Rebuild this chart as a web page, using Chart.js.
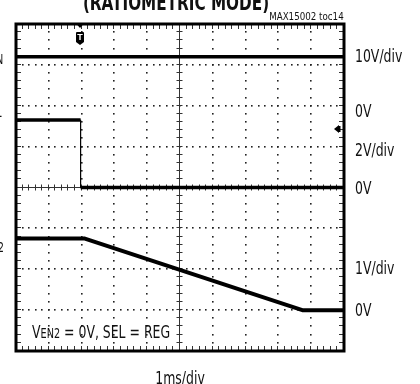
<!DOCTYPE html>
<html>
<head>
<meta charset="utf-8">
<script src="https://cdn.jsdelivr.net/npm/chart.js@4"></script>
<style>
  html, body { margin: 0; padding: 0; background: #fff; }
  #wrap {
    position: relative; width: 420px; height: 384px; overflow: hidden;
    font-family: "Liberation Sans Narrow", "Arial Narrow", "DejaVu Sans Condensed", sans-serif;
    color: #111;
  }
  canvas { position: absolute; left: 0; top: 0; }
  .lbl {
    position: absolute; white-space: nowrap; font-size: 18px; line-height: 1;
    transform: translateY(-50%) scaleX(0.77); transform-origin: 0 50%;
  }
  .lbl.r { transform-origin: 100% 50%; }
  .lbl.c { transform: translate(-50%, -50%) scaleX(0.77); transform-origin: 50% 50%; }
  .sub { font-size: 14px; }
  #title { font-weight: bold; font-size: 22px; }
  #tag { font-size: 11px; transform: translateY(-50%) scaleX(0.88); }
</style>
</head>
<body>
<div id="wrap">
  <canvas id="scope" width="420" height="384"></canvas>
  <div id="title" class="lbl c" style="left:176px; top:3px;">(RATIOMETRIC MODE)</div>
  <div id="tag" class="lbl r" style="right:76px; top:16px;">MAX15002 toc14</div>

  <div class="lbl r" style="right:417px; top:58px;">V<span class="sub">IN</span></div>
  <div class="lbl r" style="right:418px; top:111px;">V<span class="sub">EN1</span></div>
  <div class="lbl r" style="right:416px; top:246px;">V<span class="sub">OUT2</span></div>

  <div class="lbl" style="left:355px; top:56px;">10V/div</div>
  <div class="lbl" style="left:355px; top:111px;">0V</div>
  <div class="lbl" style="left:355px; top:150px;">2V/div</div>
  <div class="lbl" style="left:355px; top:188px;">0V</div>
  <div class="lbl" style="left:355px; top:268px;">1V/div</div>
  <div class="lbl" style="left:355px; top:310px;">0V</div>

  <div class="lbl" style="left:32px; top:332px;">V<span class="sub">EN2</span> = 0V, SEL = REG</div>
  <div class="lbl c" style="left:180px; top:378px;">1ms/div</div>
</div>
<script>
// screen: 10 time divisions at 1ms/div, 8 vertical divisions
const timeDivs = 10;
const voltDivs = 8;

// channels: VIN, VEN1, VOUT2
const voltsPerDiv = [10, 2, 1];
const zeroDiv = [2, 0, -3];

const vinTime = [0, 10];
const vinVolts = [12, 12];

const en1Time = [0, 1.97, 1.97, 10];
const en1Volts = [3.3, 3.3, 0, 0];

const out2Time = [0, 2.1, 8.73, 10];
const out2Volts = [1.75, 1.75, 0, 0];

const triggerTime = 1.95;
const refMarkerDiv = 1.42;

function toDivs(times, volts, ch) {
    return times.map((t, i) => ({ x: t, y: zeroDiv[ch] + volts[i] / voltsPerDiv[ch] }));
}

// thin line on the fast edges, thick everywhere else
const edgeWidth = (w) => ({
    borderWidth: ctx => ctx.p0.parsed.x === ctx.p1.parsed.x ? 1.2 : w
});

const scopeGrid = {
    id: 'scopeGrid',
    beforeDatasetsDraw(chart) {
        const { ctx, chartArea: a, scales: { x, y } } = chart;
        ctx.save();
        ctx.fillStyle = '#222';

        // dotted graticule
        for (let i = 1; i < timeDivs; i++) {
            if (i === timeDivs / 2) continue;
            const px = Math.round(x.getPixelForValue(i));
            for (let j = 1; j < voltDivs * 5; j++) {
                const py = Math.round(y.getPixelForValue(-voltDivs / 2 + j / 5));
                ctx.fillRect(px - 1, py - 1, 1.6, 1.6);
            }
        }
        for (let j = 1; j < voltDivs; j++) {
            if (j === voltDivs / 2) continue;
            const py = Math.round(y.getPixelForValue(-voltDivs / 2 + j));
            for (let i = 1; i < timeDivs * 5; i++) {
                const px = Math.round(x.getPixelForValue(i / 5));
                ctx.fillRect(px - 1, py - 1, 1.6, 1.6);
            }
        }

        // center cross with minor ticks
        const cx = Math.round(x.getPixelForValue(timeDivs / 2)) - 0.5;
        const cy = Math.round(y.getPixelForValue(0)) - 0.5;
        ctx.strokeStyle = '#333';
        ctx.lineWidth = 1;
        ctx.beginPath();
        ctx.moveTo(a.left, cy); ctx.lineTo(a.right, cy);
        ctx.moveTo(cx, a.top); ctx.lineTo(cx, a.bottom);
        for (let i = 1; i < timeDivs * 5; i++) {
            const px = Math.round(x.getPixelForValue(i / 5)) - 0.5;
            ctx.moveTo(px, cy - 3); ctx.lineTo(px, cy + 3);
            // border ticks, top and bottom
            ctx.moveTo(px, a.top); ctx.lineTo(px, a.top + 5);
            ctx.moveTo(px, a.bottom); ctx.lineTo(px, a.bottom - 5);
        }
        for (let j = 1; j < voltDivs * 5; j++) {
            const py = Math.round(y.getPixelForValue(-voltDivs / 2 + j / 5)) - 0.5;
            ctx.moveTo(cx - 3, py); ctx.lineTo(cx + 3, py);
            ctx.moveTo(a.left, py); ctx.lineTo(a.left + 5, py);
            ctx.moveTo(a.right, py); ctx.lineTo(a.right - 5, py);
        }
        ctx.stroke();
        ctx.restore();
    },
    afterDatasetsDraw(chart) {
        const { ctx, chartArea: a, scales: { x, y } } = chart;
        ctx.save();

        // frame
        ctx.strokeStyle = '#000';
        ctx.lineWidth = 3;
        ctx.strokeRect(a.left, a.top, a.right - a.left, a.bottom - a.top);

        // trigger marker
        const tx = Math.round(x.getPixelForValue(triggerTime));
        ctx.fillStyle = '#000';
        ctx.beginPath();
        ctx.moveTo(tx - 3.5, a.top); ctx.lineTo(tx + 3.5, a.top); ctx.lineTo(tx, a.top + 4);
        ctx.closePath();
        ctx.fill();
        const sy = a.top + 8;
        ctx.beginPath();
        ctx.moveTo(tx - 4, sy + 1);
        ctx.quadraticCurveTo(tx - 4, sy, tx - 3, sy);
        ctx.lineTo(tx + 3, sy);
        ctx.quadraticCurveTo(tx + 4, sy, tx + 4, sy + 1);
        ctx.lineTo(tx + 4, sy + 10);
        ctx.lineTo(tx, sy + 13);
        ctx.lineTo(tx - 4, sy + 10);
        ctx.closePath();
        ctx.fill();
        ctx.fillStyle = '#fff';
        ctx.font = 'bold 9px "Liberation Sans", sans-serif';
        ctx.textAlign = 'center';
        ctx.textBaseline = 'middle';
        ctx.fillText('T', tx, sy + 5.5);

        // reference level marker on the right edge
        const my = Math.round(y.getPixelForValue(refMarkerDiv));
        ctx.fillStyle = '#000';
        ctx.beginPath();
        ctx.moveTo(a.right - 10, my); ctx.lineTo(a.right - 5, my - 4); ctx.lineTo(a.right - 5, my + 4);
        ctx.closePath();
        ctx.fill();
        ctx.fillRect(a.right - 5, my - 3, 1.5, 6);
        ctx.restore();
    }
};

new Chart(document.getElementById('scope'), {
    type: 'line',
    data: {
        datasets: [
            { data: toDivs(vinTime, vinVolts, 0), borderWidth: 3.5 },
            { data: toDivs(en1Time, en1Volts, 1), borderWidth: 3.5, segment: edgeWidth(3.5) },
            { data: toDivs(out2Time, out2Volts, 2), borderWidth: 4 }
        ].map(ds => Object.assign({
            borderColor: '#000',
            pointRadius: 0,
            tension: 0,
            fill: false,
            borderJoinStyle: 'round'
        }, ds))
    },
    options: {
        responsive: false,
        animation: false,
        devicePixelRatio: 1,
        layout: { padding: { left: 16, right: 76, top: 24, bottom: 33 } },
        scales: {
            x: { type: 'linear', min: 0, max: timeDivs, display: false },
            y: { type: 'linear', min: -voltDivs / 2, max: voltDivs / 2, display: false }
        },
        plugins: {
            legend: { display: false },
            tooltip: { enabled: false }
        }
    },
    plugins: [scopeGrid]
});
</script>
</body>
</html>
